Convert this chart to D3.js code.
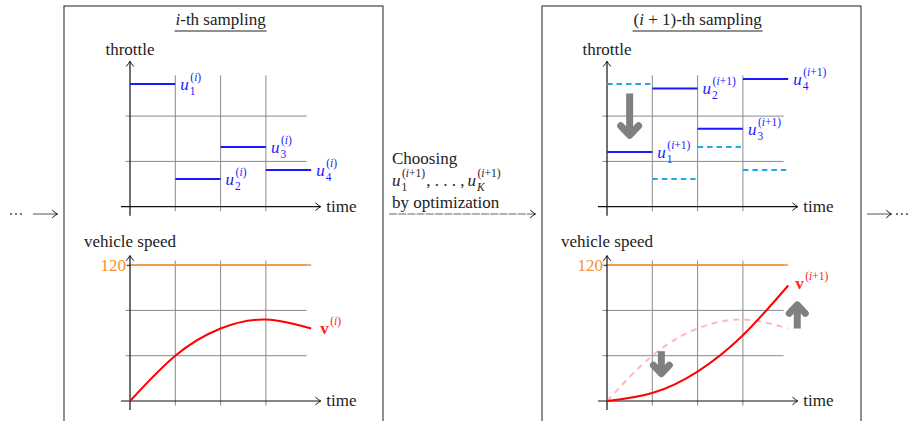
<!DOCTYPE html>
<html>
<head>
<meta charset="utf-8">
<script src="https://cdn.jsdelivr.net/npm/d3@7"></script>
<style>
  body { margin: 0; background: #fff; }
</style>
</head>
<body>
<div class="svg-container"></div>
<script>
// ---- data ----
const stepStart  = [0, 1, 2, 3];               // each throttle value holds for one step
const uPrev      = [2.71, 0.61, 1.32, 0.81];   // u^(i)
const uNext      = [1.21, 2.61, 1.72, 2.82];   // u^(i+1)
const timePoints = [0, 1, 2, 3, 4];
const vPrev      = [0, 40, 64, 72, 64];        // v^(i)   (km/h)
const vNext      = [0, 7, 26, 58, 102];        // v^(i+1) (km/h)
const speedLimit = 120;
const throttleGrid = [1, 2];
const speedGrid    = [40, 80, 120];
const timeGrid     = [1, 2, 3];
// annotation arrows, in data units: [time, from, to]
const throttleShift = [0.5, 2.5, 1.5];
const speedShifts   = [[1.2, 44, 21], [4.2, 64, 88]];

const w = 908, h = 421, unit = 45.3, fs = 17, fsSmall = 11.5;
const serif = '"Liberation Serif", "DejaVu Serif", "Times New Roman", serif';
const blue = "#1a1aff", cyan = "#1eaae6", red = "#ff0000", orange = "#f5922f", gridCol = "#8a8a8a";

const svg = d3.select(".svg-container").append("svg")
  .attr("width", w).attr("height", h)
  .style("font-family", serif);

// small arrow tip like the tikz "to" tip
const defs = svg.append("defs");
defs.append("marker")
  .attr("id", "tip").attr("viewBox", "-6 -5 8 10")
  .attr("refX", 0).attr("refY", 0)
  .attr("markerWidth", 8).attr("markerHeight", 10)
  .attr("markerUnits", "userSpaceOnUse").attr("orient", "auto")
  .append("path")
  .attr("d", "M-4.5,-3.6 Q-1.6,-0.9 0.6,0 Q-1.6,0.9 -4.5,3.6")
  .attr("fill", "none").attr("stroke", "#111").attr("stroke-width", 1)
  .attr("stroke-linecap", "round");

function txt(g, x, y, size) {
  return g.append("text").attr("x", x).attr("y", y)
    .style("font-family", serif).style("font-size", size + "px").style("fill", "#222");
}

function mathLabel(g, x, y, base, sub, sup, color, bold) {
  const t = txt(g, x, y, fs).style("fill", color)
    .style("font-style", bold ? "normal" : "italic")
    .style("font-weight", bold ? "bold" : "normal")
    .text(base);
  const bw = t.node().getComputedTextLength();
  let endX = x + bw;
  if (sub !== null) {
    const s = txt(g, x + bw + 1, y + 5, fsSmall).style("fill", color)
      .style("font-style", /[0-9]/.test(sub) ? "normal" : "italic").text(sub);
    endX = Math.max(endX, x + bw + 1 + s.node().getComputedTextLength());
  }
  if (sup !== null) {
    const s = txt(g, x + bw + 1.5, y - 9, fsSmall).style("fill", color);
    s.append("tspan").text("(");
    s.append("tspan").style("font-style", "italic").text("i");
    s.append("tspan").text(sup + ")");
    endX = Math.max(endX, x + bw + 1.5 + s.node().getComputedTextLength());
  }
  return endX;
}

function fatArrow(g, x, y0, y1, arm) {
  const dir = y1 > y0 ? 1 : -1;
  g.append("line").attr("x1", x).attr("x2", x)
    .attr("y1", y0).attr("y2", y1 - dir * 4)
    .attr("stroke", "#808080").attr("stroke-width", 7);
  g.append("path")
    .attr("d", `M${x - arm},${y1 - dir * (arm + 4)} L${x},${y1 - dir * 3.5} L${x + arm},${y1 - dir * (arm + 4)}`)
    .attr("fill", "none").attr("stroke", "#808080").attr("stroke-width", 7)
    .attr("stroke-linecap", "round").attr("stroke-linejoin", "round");
}

function drawPanel(ox, boxX, next) {
  const g = svg.append("g");
  const x = d3.scaleLinear().domain([0, 4]).range([ox, ox + 4 * unit]);
  const yT = d3.scaleLinear().domain([0, 3]).range([206.7, 206.7 - 3 * unit]);
  const yS = d3.scaleLinear().domain([0, 120]).range([401, 401 - 3 * unit]);

  // frame
  g.append("rect").attr("x", boxX).attr("y", 6).attr("width", 319).attr("height", 480)
    .attr("fill", "none").attr("stroke", "#333").attr("stroke-width", 1.1);

  // title
  const title = txt(g, x(2), 25, fs).attr("text-anchor", "middle");
  if (next) {
    title.append("tspan").text("(");
    title.append("tspan").style("font-style", "italic").text("i");
    title.append("tspan").text(" + 1)-th sampling");
  } else {
    title.append("tspan").style("font-style", "italic").text("i");
    title.append("tspan").text("-th sampling");
  }
  const tw = title.node().getComputedTextLength();
  g.append("line").attr("x1", x(2) - tw / 2 - 1).attr("x2", x(2) + tw / 2 + 1)
    .attr("y1", 31).attr("y2", 31).attr("stroke", "#222").attr("stroke-width", 1);

  // ---------- throttle ----------
  g.selectAll(".tv").data(timeGrid).enter().append("line")
    .attr("x1", d => x(d)).attr("x2", d => x(d))
    .attr("y1", yT(-0.1)).attr("y2", yT(2.9))
    .attr("stroke", gridCol).attr("stroke-width", 1);
  g.selectAll(".th").data(throttleGrid).enter().append("line")
    .attr("x1", x(-0.1)).attr("x2", x(3.9))
    .attr("y1", d => yT(d)).attr("y2", d => yT(d))
    .attr("stroke", gridCol).attr("stroke-width", 1);

  g.append("line").attr("x1", x(-0.2)).attr("x2", x(4.2)).attr("y1", yT(0)).attr("y2", yT(0))
    .attr("stroke", "#111").attr("stroke-width", 1.2).attr("marker-end", "url(#tip)");
  g.append("line").attr("x1", x(0)).attr("x2", x(0)).attr("y1", yT(-0.2)).attr("y2", yT(3.2))
    .attr("stroke", "#111").attr("stroke-width", 1.2).attr("marker-end", "url(#tip)");
  txt(g, x(0), 55, fs).attr("text-anchor", "middle").text("throttle");
  txt(g, x(4.2) + 6, yT(0) + 5, fs).text("time");

  if (next) {
    g.selectAll(".old").data(uPrev).enter().append("line")
      .attr("x1", (d, i) => x(stepStart[i])).attr("x2", (d, i) => x(stepStart[i] + 1) - 2)
      .attr("y1", d => yT(d)).attr("y2", d => yT(d))
      .attr("stroke", cyan).attr("stroke-width", 2).attr("stroke-dasharray", "5.5,4");
  }
  const u = next ? uNext : uPrev;
  g.selectAll(".u").data(u).enter().append("line")
    .attr("x1", (d, i) => x(stepStart[i])).attr("x2", (d, i) => x(stepStart[i] + 1))
    .attr("y1", d => yT(d)).attr("y2", d => yT(d))
    .attr("stroke", blue).attr("stroke-width", 2);
  u.forEach((d, i) => {
    mathLabel(g, x(stepStart[i] + 1) + 5, yT(d) + 6, "u", String(i + 1), next ? "+1" : "", blue, false);
  });
  if (next) {
    fatArrow(g, x(throttleShift[0]), yT(throttleShift[1]), yT(throttleShift[2]), 9);
  }

  // ---------- speed ----------
  g.selectAll(".sv").data(timeGrid).enter().append("line")
    .attr("x1", d => x(d)).attr("x2", d => x(d))
    .attr("y1", yS(-4)).attr("y2", yS(124))
    .attr("stroke", gridCol).attr("stroke-width", 1);
  g.selectAll(".sh").data(speedGrid).enter().append("line")
    .attr("x1", x(-0.1)).attr("x2", x(3.9))
    .attr("y1", d => yS(d)).attr("y2", d => yS(d))
    .attr("stroke", gridCol).attr("stroke-width", 1);
  g.append("line").attr("x1", x(0)).attr("x2", x(4))
    .attr("y1", yS(speedLimit)).attr("y2", yS(speedLimit))
    .attr("stroke", orange).attr("stroke-width", 1.5);

  const yAxis = g.append("g").attr("transform", `translate(${x(0)},0)`)
    .call(d3.axisLeft(yS).tickValues([speedLimit]).tickSize(3).tickPadding(1));
  yAxis.attr("font-family", null);
  yAxis.select(".domain").remove();
  yAxis.selectAll(".tick line").attr("stroke", "#444");
  yAxis.selectAll(".tick text").style("fill", orange)
    .style("font-family", serif).style("font-size", fs + "px");

  g.append("line").attr("x1", x(-0.2)).attr("x2", x(4.2)).attr("y1", yS(0)).attr("y2", yS(0))
    .attr("stroke", "#111").attr("stroke-width", 1.2).attr("marker-end", "url(#tip)");
  g.append("line").attr("x1", x(0)).attr("x2", x(0)).attr("y1", yS(-8)).attr("y2", yS(128))
    .attr("stroke", "#111").attr("stroke-width", 1.2).attr("marker-end", "url(#tip)");
  txt(g, x(0), 247, fs).attr("text-anchor", "middle").text("vehicle speed");
  txt(g, x(4.2) + 6, yS(0) + 5, fs).text("time");

  const line = d3.line().x((d, i) => x(timePoints[i])).y(d => yS(d)).curve(d3.curveNatural);
  if (next) {
    g.append("path").datum(vPrev).attr("d", line).attr("fill", "none")
      .attr("stroke", red).attr("stroke-opacity", 0.28).attr("stroke-width", 2)
      .attr("stroke-dasharray", "6,5");
  }
  const v = next ? vNext : vPrev;
  g.append("path").datum(v).attr("d", line).attr("fill", "none")
    .attr("stroke", red).attr("stroke-width", 2);
  mathLabel(g, x(4) + (next ? 7 : 9), yS(v[4]) + (next ? 4 : 5), "v", null, next ? "+1" : "", "#ff2020", true);

  if (next) {
    speedShifts.forEach(s => fatArrow(g, x(s[0]), yS(s[1]), yS(s[2]), 8));
  }
}

drawPanel(130, 64, false);
drawPanel(607, 542, true);

// ---------- middle text and arrows ----------
const mid = svg.append("g");
txt(mid, 392, 164, fs).text("Choosing");
let ex = mathLabel(mid, 392, 186, "u", "1", "+1", "#222", false);
const dots = txt(mid, ex + 1, 186, fs).text(", . . . ,");
ex = ex + 1 + dots.node().getComputedTextLength() + 3;
mathLabel(mid, ex, 186, "u", "K", "+1", "#222", false);
txt(mid, 392, 208, fs).text("by optimization");
mid.append("line").attr("x1", 389).attr("x2", 535).attr("y1", 214).attr("y2", 214)
  .attr("stroke", "#666").attr("stroke-width", 1).attr("stroke-dasharray", "8,1.2")
  .attr("marker-end", "url(#tip)");

// side continuation marks
[[11, 16, 21], [897, 902, 907]].forEach(xs => xs.forEach(cx =>
  svg.append("circle").attr("cx", cx).attr("cy", 214).attr("r", 0.9).attr("fill", "#333")));
svg.append("line").attr("x1", 33).attr("x2", 57).attr("y1", 214).attr("y2", 214)
  .attr("stroke", "#555").attr("stroke-width", 1).attr("marker-end", "url(#tip)");
svg.append("line").attr("x1", 867).attr("x2", 891).attr("y1", 214).attr("y2", 214)
  .attr("stroke", "#555").attr("stroke-width", 1).attr("marker-end", "url(#tip)");
</script>
</body>
</html>
